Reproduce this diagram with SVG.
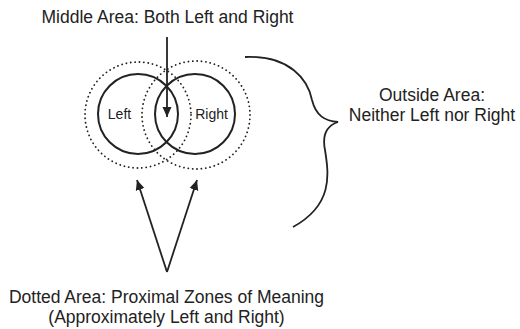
<svg xmlns="http://www.w3.org/2000/svg" width="520" height="329" viewBox="0 0 520 329">
<defs>
<style>
.t{font-family:"Liberation Sans",Arial,Helvetica,sans-serif;fill:#222;text-anchor:middle}
.big{font-size:17.5px}
.sm{font-size:14px}
.solid{fill:none;stroke:#222;stroke-width:2}
.dot{fill:none;stroke:#222;stroke-width:1.8;stroke-dasharray:0.1 4.3;stroke-linecap:round}
.ln{fill:none;stroke:#222;stroke-width:1.8}
</style>
<marker id="ah" viewBox="0 0 10 10" refX="10" refY="5" markerWidth="10" markerHeight="10" markerUnits="userSpaceOnUse" orient="auto">
<path d="M0,0.5 L10,5 L0,9.5 Z" fill="#222"/>
</marker>
</defs>
<rect width="520" height="329" fill="#fff"/>
<g id="title-middle"><text class="t big" x="167.5" y="23">Middle Area: Both Left and Right</text></g>
<g id="left-zone"><circle class="dot" cx="138" cy="115" r="53"/></g>
<g id="right-zone"><circle class="dot" cx="196" cy="115" r="54"/></g>
<g id="left"><circle class="solid" cx="138" cy="114" r="40"/><text class="t sm" x="119.5" y="118.5">Left</text></g>
<g id="right"><circle class="solid" cx="195" cy="114" r="40"/><text class="t sm" x="211.5" y="118.5">Right</text></g>
<g id="outside"><text class="t big" x="432" y="101">Outside Area:</text><text class="t big" x="432" y="121">Neither Left nor Right</text></g>
<g id="dotted-label"><text class="t big" x="166.5" y="302.5">Dotted Area: Proximal Zones of Meaning</text><text class="t big" x="166.5" y="323">(Approximately Left and Right)</text></g>
<g id="connectors">
<line class="ln" x1="167" y1="37" x2="167" y2="117" marker-end="url(#ah)"/>
<line class="ln" x1="167" y1="272" x2="137" y2="180" marker-end="url(#ah)"/>
<line class="ln" x1="167" y1="272" x2="197" y2="180" marker-end="url(#ah)"/>
<path class="ln" d="M245,57 C290,55 308,80 312,100 C316,116 325,121 338,122 C326,126 322,135 325,150 C329,175 333,205 293,227"/>
</g>
</svg>
